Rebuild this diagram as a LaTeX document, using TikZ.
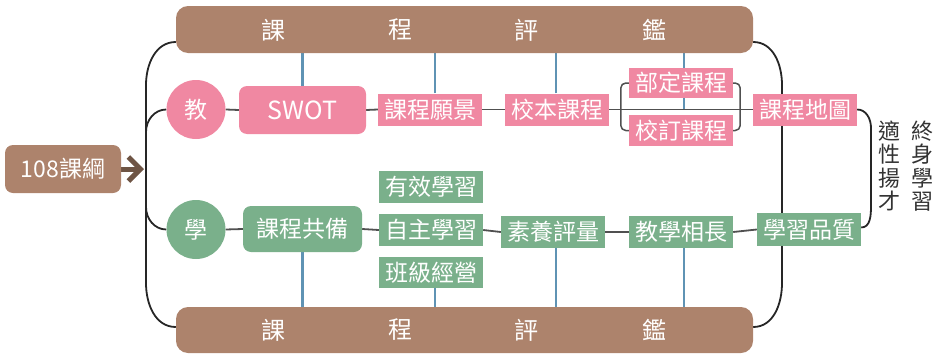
\documentclass[tikz,border=0pt]{standalone}
\usepackage{fontspec}
\setmainfont{Noto Sans CJK TC}
\usetikzlibrary{arrows.meta}
\definecolor{brownc}{HTML}{AD836C}
\definecolor{arrowc}{HTML}{6E5444}
\definecolor{pinkc}{HTML}{F088A2}
\definecolor{greenc}{HTML}{7AB08B}
\definecolor{bluec}{HTML}{5F93B4}
\definecolor{linec}{HTML}{262626}
\definecolor{grayc}{HTML}{505050}
\definecolor{textc}{HTML}{333333}
\pgfdeclarelayer{bg}
\pgfsetlayers{bg,main}
\begin{document}
\begin{tikzpicture}[x=1pt,y=-1pt,
  every node/.style={text=white, inner sep=0pt},
  bar/.style={fill=brownc, rounded corners=12pt, minimum width=577pt, minimum height=47pt},
  barch/.style={font=\fontsize{24}{28}\selectfont},
  boxfont/.style={font=\fontsize{23}{26}\selectfont},
  pbox/.style={fill=pinkc, minimum width=104pt, minimum height=32pt, boxfont},
  gbox/.style={fill=greenc, minimum width=104pt, minimum height=32pt, boxfont},
  circ/.style={circle, minimum size=59pt, boxfont},
  conn/.style={draw=grayc, line width=1.8pt},
  outer/.style={draw=linec, line width=1.8pt},
  bl/.style={draw=bluec, line width=2.5pt},
  vtext/.style={text=textc, align=center, font=\fontsize{22}{23.5}\selectfont}
]
\useasboundingbox (0,0) rectangle (942,356);

% bars
\node[bar] (topbar) at (464.5,29.5) {};
\node[barch] (tc1) at (273,30) {課};
\node[barch] (tc2) at (400,30) {程};
\node[barch] (tc3) at (526,30) {評};
\node[barch] (tc4) at (654,30) {鑑};
\node[bar, minimum height=46pt] (botbar) at (464.5,330) {};
\node[barch] (bc1) at (273,330) {課};
\node[barch] (bc2) at (400,330) {程};
\node[barch] (bc3) at (526,330) {評};
\node[barch] (bc4) at (654,330) {鑑};

% source
\node[fill=brownc, rounded corners=8pt, minimum width=116pt, minimum height=48pt, boxfont] (kg) at (63,169) {108課綱};
\coordinate (arrtip) at (144,169);

% teaching row
\node[circ, fill=pinkc] (jiao) at (196,109.5) {教};
\node[fill=pinkc, rounded corners=8pt, minimum width=127pt, minimum height=48pt, font=\fontsize{25}{28}\selectfont] (swot) at (302.5,110) {SWOT};
\node[pbox] (vision) at (430,109.5) {課程願景};
\node[pbox] (school) at (557,109.5) {校本課程};
\node[pbox, minimum height=30pt] (budin) at (681,83) {部定課程};
\node[pbox, minimum height=31pt] (jiaoding) at (681,130.5) {校訂課程};
\node[pbox] (map) at (805,109.5) {課程地圖};

% learning row
\node[circ, fill=greenc] (xue) at (196,229.5) {學};
\node[fill=greenc, rounded corners=8pt, minimum width=119pt, minimum height=46pt, boxfont] (gongbei) at (302.5,229) {課程共備};
\node[gbox] (youxiao) at (431,187) {有效學習};
\node[gbox] (zizhu) at (431,230) {自主學習};
\node[gbox, minimum height=31pt] (banji) at (431,272.5) {班級經營};
\node[gbox] (suyang) at (553,232) {素養評量};
\node[gbox] (xiang) at (681,232) {教學相長};
\node[gbox, minimum height=33pt] (quality) at (809,229.5) {學習品質};

% right texts
\node[vtext] (shixing) at (889,166) {適\\性\\揚\\才};
\node[vtext] (zhongshen) at (922,166) {終\\身\\學\\習};

\begin{pgfonlayer}{bg}
  % outer brackets
  \draw[outer] ([yshift=-12.5pt]topbar.west) to[out=180,in=90] (146,85) -- (146,283)
     to[out=-90,in=180] ([yshift=3pt]botbar.west);
  \draw[outer] (jiao.west) to[out=180,in=90] (146,132);
  \draw[outer] (xue.west) to[out=180,in=-90] (146,207);
  \draw[outer] ([yshift=-12.5pt]topbar.east) to[out=0,in=90] (782,85) -- (782,283)
     to[out=-90,in=0] ([yshift=3pt]botbar.east);
  \draw[outer] (map.east) to[out=0,in=90] (871,128) -- (871,206) to[out=-90,in=0] ([yshift=2pt]quality.east);
  % arrow
  \draw[arrowc, line width=5pt, -{Straight Barb[length=12pt,width=24pt]}] (kg.east) -- (arrtip);
  % blue verticals
  \draw[bl] (swot.north) -- (swot.north |- topbar.south);
  \draw[bl] ([xshift=5pt]vision.north) -- ([xshift=5pt]vision.north |- topbar.south);
  \draw[bl] ([xshift=-1pt]school.north) -- ([xshift=-1pt]school.north |- topbar.south);
  \draw[bl] ([xshift=3pt]budin.center |- topbar.south) -- ([xshift=3pt]budin.center |- school.east);
  \draw[bl] (gongbei.south) -- (gongbei.south |- botbar.north);
  \draw[bl] ([xshift=4pt]banji.south) -- ([xshift=4pt]banji.south |- botbar.north);
  \draw[bl] ([xshift=3pt]suyang.south) -- ([xshift=3pt]suyang.south |- botbar.north);
  \draw[bl] ([xshift=3pt]xiang.south) -- ([xshift=3pt]xiang.south |- botbar.north);
  % horizontal connectors
  \draw[conn] (jiao.east) -- (swot.west);
  \draw[conn] (swot.east) -- (vision.west);
  \draw[conn] (vision.east) -- (school.west);
  \draw[conn] (school.east) -- (map.west);
  \draw[conn, line width=1.5pt, rounded corners=5pt] (budin.west) -- ++(-8,0) -- ([xshift=-8pt]jiaoding.west) -- (jiaoding.west);
  \draw[conn, line width=1.5pt, rounded corners=5pt] (budin.east) -- ++(7,0) -- ([xshift=7pt]jiaoding.east) -- (jiaoding.east);
  \draw[conn] (xue.east) -- (gongbei.west);
  \draw[conn] (gongbei.east) -- (zizhu.west);
  \draw[conn] (zizhu.east) -- (suyang.west);
  \draw[conn] (suyang.east) -- (xiang.west);
  \draw[conn] (xiang.east) -- (quality.west);
\end{pgfonlayer}
\end{tikzpicture}
\end{document}
